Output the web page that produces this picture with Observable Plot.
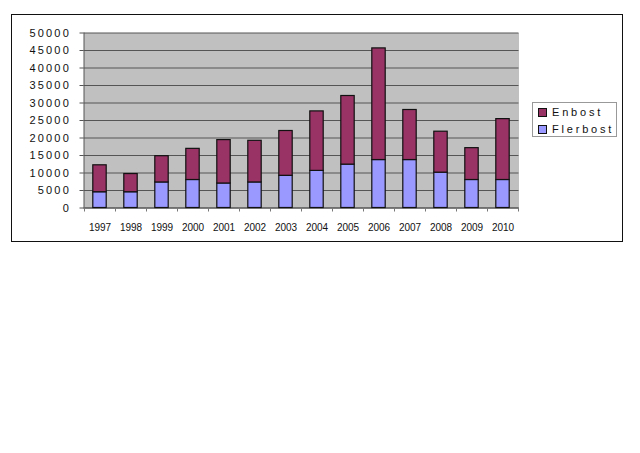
<!DOCTYPE html>
<html>
<head>
<meta charset="utf-8">
<script src="https://cdn.jsdelivr.net/npm/d3@7"></script>
<script src="https://cdn.jsdelivr.net/npm/@observablehq/plot@0.6"></script>
<style>
  html, body { margin: 0; padding: 0; background: #fff; }
  #wrap { position: relative; width: 640px; height: 453px; font-family: Arial, "Liberation Sans", sans-serif; }
  #outer { position: absolute; left: 11px; top: 14px; width: 610px; height: 226px; border: 1.5px solid #111; box-sizing: content-box; pointer-events: none; }
  #legend { position: absolute; left: 532px; top: 102px; width: 85px; height: 35px; border: 1px solid #999; background: #fff; box-sizing: border-box; font-size: 11px; letter-spacing: 2.8px; color: #111; }
  .row { position: absolute; left: 5px; display: flex; align-items: center; white-space: nowrap; }
  .sw { width: 9px; height: 9px; border: 1px solid #111; margin-right: 5px; box-sizing: border-box; }
  svg text { font-family: Arial, "Liberation Sans", sans-serif; }
  g[aria-label="y-axis tick label"] text { letter-spacing: 2.2px; }
</style>
</head>
<body>
<div id="wrap"></div>
<script>
const years = ["1997","1998","1999","2000","2001","2002","2003","2004","2005","2006","2007","2008","2009","2010"];
const flerbost = [4500, 4500, 7300, 8000, 7000, 7300, 9200, 10600, 12400, 13700, 13700, 10100, 8000, 8000];
const enbost = [7700, 5200, 7500, 8900, 12400, 11900, 12800, 17000, 19600, 31900, 14300, 11700, 9100, 17400];
const series = ["Flerbost", "Enbost"];
const colors = ["#9999FF", "#993366"];
const yTicks = [0, 5000, 10000, 15000, 20000, 25000, 30000, 35000, 40000, 45000, 50000];

const data = [];
years.forEach((y, i) => {
  data.push({year: y, serie: "Flerbost", value: flerbost[i]});
  data.push({year: y, serie: "Enbost", value: enbost[i]});
});

const chart = Plot.plot({
  width: 640,
  height: 453,
  marginLeft: 83.5,
  marginRight: 121.5,
  marginTop: 32.5,
  marginBottom: 245.5,
  style: {background: "transparent", fontSize: "11px", color: "#111"},
  x: {domain: years, padding: 0, label: null},
  y: {domain: [0, 50000], label: null},
  color: {domain: series, range: colors},
  marks: [
    Plot.frame({fill: "#C0C0C0", stroke: "none"}),
    Plot.gridY(yTicks, {stroke: "#555", strokeOpacity: 1, strokeWidth: 1}),
    Plot.axisY(yTicks, {tickSize: 4, tickPadding: 9, fontSize: 11, stroke: "#555", label: null, tickFormat: d => String(d)}),
    Plot.axisX({tickSize: 0, tickPadding: 16, fontSize: 10, label: null}),
    Plot.frame({anchor: "left", stroke: "#555"}),
    Plot.ruleY([0], {stroke: "#555"}),
    Plot.ruleX(years, {y1: 0, y2: 0, insetBottom: -4, dx: -15.5, stroke: "#777"}),
    Plot.ruleX(years.slice(-1), {y1: 0, y2: 0, insetBottom: -4, dx: 15.5, stroke: "#777"}),
    Plot.barY(data, {x: "year", y: "value", fill: "serie", stroke: "#111", strokeWidth: 1.2, insetLeft: 8.8, insetRight: 8.8})
  ]
});

const wrap = document.getElementById("wrap");
wrap.appendChild(chart);

const outer = document.createElement("div");
outer.id = "outer";
wrap.appendChild(outer);

const legend = document.createElement("div");
legend.id = "legend";
const legendItems = [{name: "Enbost", color: colors[1], top: 3}, {name: "Flerbost", color: colors[0], top: 20}];
legendItems.forEach(it => {
  const row = document.createElement("div");
  row.className = "row";
  row.style.top = it.top + "px";
  const sw = document.createElement("div");
  sw.className = "sw";
  sw.style.background = it.color;
  const t = document.createElement("span");
  t.textContent = it.name;
  row.appendChild(sw);
  row.appendChild(t);
  legend.appendChild(row);
});
wrap.appendChild(legend);
</script>
</body>
</html>
